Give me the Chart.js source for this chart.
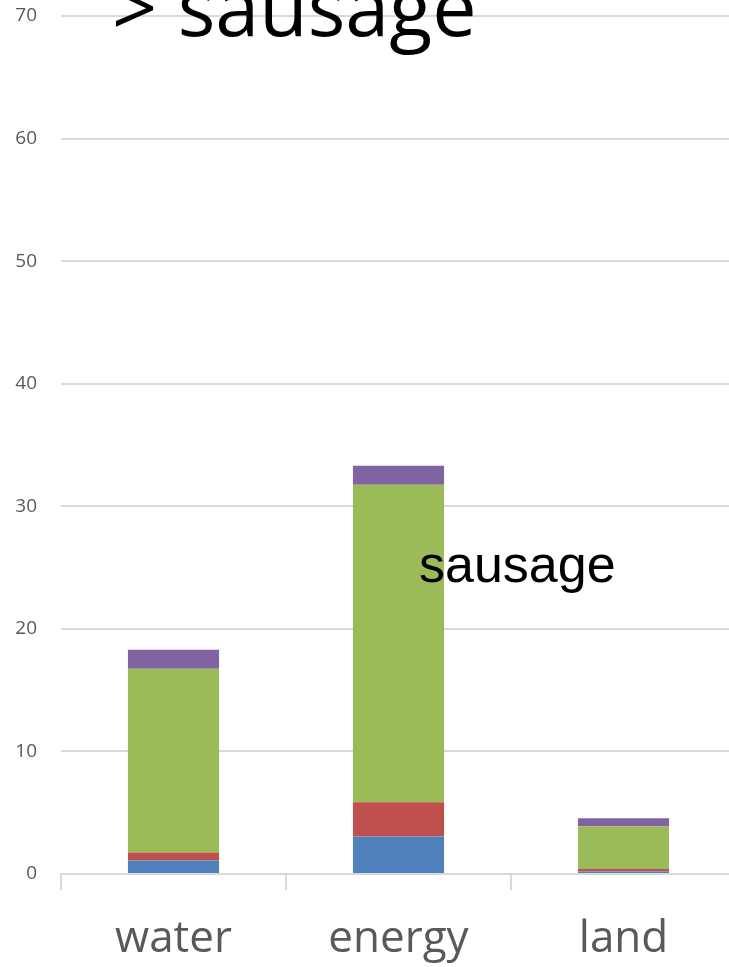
<!DOCTYPE html>
<html>
<head>
<meta charset="utf-8">
<script src="https://cdn.jsdelivr.net/npm/chart.js@4"></script>
<style>
  html, body { margin: 0; padding: 0; overflow: hidden; background: #fff; }
  #wrap { width: 740px; height: 967px; }
</style>
</head>
<body>
<div id="wrap"><canvas id="chart"></canvas></div>
<script>
// data
const categories = ["water", "energy", "land"]
const blueValues = [1.1, 3.05, 0.2]
const redValues = [0.65, 2.8, 0.2]
const greenValues = [15.0, 25.9, 3.5]
const purpleValues = [1.55, 1.55, 0.65]
const yTicks = [0, 10, 20, 30, 40, 50, 60, 70]

const titleText = "> sausage"
const innerText = "sausage"

// draws the two loose text pieces
const textPlugin = {
    id: "loose_text",
    afterDraw: function(chart) {
        var ctx = chart.ctx
        ctx.save()
        ctx.fillStyle = "#000"
        ctx.textBaseline = "alphabetic"
        ctx.font = "79px 'Open Sans'"
        ctx.fillText(titleText, 112, 36)
        ctx.font = "52px 'Liberation Sans'"
        ctx.fillText(innerText, 419, 582)
        ctx.restore()
    }
}

function makeSet(label, values, color) {
    return {
        label: label,
        data: values,
        backgroundColor: color,
        borderWidth: 0,
        barPercentage: 0.405,
        categoryPercentage: 1.0
    }
}

const config = {
    type: "bar",
    data: {
        labels: categories,
        datasets: [
            makeSet("blue", blueValues, "#4f81bd"),
            makeSet("red", redValues, "#c0504d"),
            makeSet("green", greenValues, "#9bbb59"),
            makeSet("purple", purpleValues, "#8064a2")
        ]
    },
    options: {
        responsive: true,
        maintainAspectRatio: false,
        animation: false,
        layout: { padding: { top: 0, right: 4, left: 0, bottom: 0 } },
        plugins: {
            legend: { display: false },
            tooltip: { enabled: false }
        },
        scales: {
            x: {
                stacked: true,
                afterFit: function(scale) {
                    scale.height = 93
                    scale.paddingTop = 0
                },
                grid: {
                    offset: true,
                    drawOnChartArea: false,
                    color: "#d9d9d9",
                    lineWidth: 2,
                    tickLength: 16
                },
                border: { color: "#d9d9d9", width: 2 },
                ticks: {
                    color: "#595959",
                    font: { family: "'Open Sans'", size: 44 },
                    padding: 23
                }
            },
            y: {
                stacked: true,
                min: 0,
                max: 70,
                afterFit: function(scale) {
                    scale.width = 61
                    scale.paddingTop = 16
                },
                afterBuildTicks: function(scale) {
                    scale.ticks = yTicks.map(function(v) { return { value: v } })
                },
                grid: {
                    color: "#d9d9d9",
                    lineWidth: 2,
                    drawTicks: false
                },
                border: { display: false },
                ticks: {
                    color: "#595959",
                    font: { family: "'Open Sans'", size: 19 },
                    padding: 24
                }
            }
        }
    },
    plugins: [textPlugin]
}

const myChart = new Chart(document.getElementById("chart"), config)
</script>
</body>
</html>
